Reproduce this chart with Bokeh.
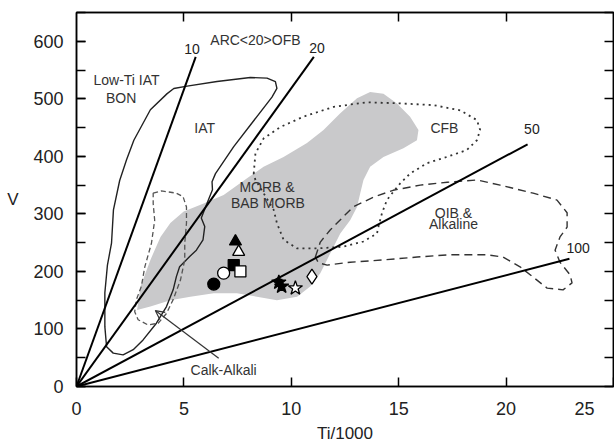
from bokeh.plotting import figure
from bokeh.models import (Range1d, LinearAxis, SingleIntervalTicker, FixedTicker,
                          Arrow, OpenHead, CustomJSTickFormatter, ColumnDataSource)
from bokeh.embed import file_html
from bokeh.resources import INLINE
from bokeh.core.properties import value

FONT = "Liberation Sans"

# Ti/V ratio lines (from origin to end point) and their labels
ratio_labels = ["10", "20", "50", "100"]
ratio_end_ti = [5.55, 11.05, 21.0, 22.95]
ratio_end_v = [573, 573, 421, 222]
ratio_label_ti = [5.38, 11.2, 21.2, 23.35]
ratio_label_v = [587, 589, 447, 241]

# MORB & BAB MORB field (grey)
morb_ti = [13.67, 14.29, 14.92, 15.53, 15.92, 15.85, 15.22, 14.29, 13.67, 13.36, 13.21, 13.06,
           12.74, 12.28, 11.97, 11.66, 11.35, 10.88, 10.27, 9.33, 8.40, 7.47, 6.39, 5.30, 4.37,
           3.44, 2.82, 2.98, 3.44, 3.91, 4.37, 4.99, 5.92, 6.85, 7.94, 8.71, 9.64, 10.73, 11.50,
           12.28, 13.06]
morb_v = [512, 509, 492, 469, 446, 428, 414, 399, 382, 359, 336, 312,
          289, 266, 243, 220, 197, 174, 156, 150, 156, 162, 162, 156, 150,
          139, 133, 174, 220, 260, 284, 304, 318, 333, 362, 382, 399, 423, 446,
          475, 501]

# Arc field (IAT + low-Ti IAT/BON), solid outline
arc_ti = [4.53, 4.22, 3.44, 2.67, 2.33, 2.01, 1.72, 1.63, 1.44, 1.32, 1.32, 1.40, 1.71, 2.17,
          2.64, 3.10, 3.72, 4.19, 4.50, 4.65, 4.80, 5.27, 5.58, 5.89, 5.97, 5.81, 6.05, 6.33,
          6.31, 6.47, 7.32, 9.10, 9.33, 9.26, 8.87, 8.09, 6.54, 5.15]
arc_v = [518, 509, 481, 428, 394, 358, 307, 249, 211, 163, 104, 69, 58, 55,
         64, 81, 110, 139, 168, 191, 208, 226, 237, 255, 278, 293, 316, 342,
         356, 370, 417, 503, 518, 530, 536, 537, 530, 522]

# Calc-alkaline field, dashed
calc_ti = [3.57, 3.95, 4.65, 4.96, 5.12, 5.12, 5.04, 5.04, 4.84, 4.50, 4.19, 3.80, 3.33, 2.87,
           2.71, 2.79, 3.02, 3.18, 3.49, 3.64, 3.57]
calc_v = [336, 340, 336, 330, 312, 284, 249, 220, 185, 151, 127, 110, 107, 116,
          130, 151, 174, 208, 249, 289, 318]

# CFB field, dotted
cfb_ti = [8.25, 8.33, 8.71, 9.49, 10.57, 11.97, 13.52, 15.07, 16.62, 17.86, 18.64, 18.79, 18.64,
          18.17, 17.24, 16.31, 15.53, 15.07, 14.76, 14.45, 14.22, 14.06, 13.99, 13.36, 12.43,
          11.20, 10.27, 9.64, 9.33, 9.18, 8.71, 8.33]
cfb_v = [370, 405, 431, 451, 469, 486, 494, 492, 489, 480, 463, 446, 428,
         411, 399, 388, 370, 353, 339, 324, 301, 278, 266, 252, 243,
         240, 240, 255, 284, 307, 336, 359]

# OIB & Alkaline field, dashed
oib_ti = [11.12, 11.35, 11.81, 12.42, 12.88, 13.81, 14.74, 16.00, 17.26, 18.65, 19.72, 21.26,
          22.37, 22.84, 22.84, 22.51, 22.28, 22.51, 22.98, 23.07, 22.65, 21.91, 21.26, 20.65,
          19.86, 19.12, 17.40, 15.86, 14.28, 12.74, 11.67, 11.26]
oib_v = [225, 251, 272, 295, 312, 329, 341, 350, 355, 359, 350, 336,
         324, 302, 277, 260, 237, 216, 194, 180, 168, 171, 190, 208,
         225, 229, 229, 225, 220, 216, 211, 215]

# Field labels
field_text = ["ARC<20>OFB", "Low-Ti IAT", "BON", "IAT", "MORB &", "BAB MORB", "CFB",
              "OIB &", "Alkaline", "Calk-Alkali"]
field_ti = [8.33, 2.33, 2.08, 5.97, 8.87, 8.91, 17.13, 17.55, 17.55, 6.85]
field_v = [603, 532, 501, 449, 346, 319, 449, 302, 282, 28]

# Calk-Alkali arrow (tail -> head)
arrow_ti = [6.62, 3.67]
arrow_v = [49, 132]

# Sample points
sample_ti = [7.40, 7.55, 7.32, 7.63, 6.85, 6.39, 9.42, 9.55, 10.19, 10.96]
sample_v = [252, 234, 211, 200, 197, 178, 181, 174, 171, 191]
sample_marker = ["triangle", "triangle", "square", "square", "circle", "circle",
                 "star", "star", "star", "diamond"]
sample_fill = ["black", "white", "black", "white", "white", "black",
               "black", "black", "white", "white"]
sample_size = [12, 12, 11, 11, 12, 12, 15, 15, 15, 15]

x_ticks = [0, 5, 10, 15, 20, 25]
x_tick_labels = ["0", "5", "10", "15", "20", "25" + "\u00a0" * 4]  # last one sits left of the corner

p = figure(frame_width=537, frame_height=374, x_range=Range1d(0, 25), y_range=Range1d(0, 650),
           output_backend="svg", toolbar_location=None,
           min_border_left=76, min_border_right=1, min_border_top=12, min_border_bottom=56)
p.xgrid.visible = False
p.ygrid.visible = False
p.outline_line_color = "black"
p.outline_line_width = 1.5
p.background_fill_color = "white"
p.border_fill_color = "white"

# bottom axis
xa = p.xaxis[0]
xa.ticker = FixedTicker(ticks=x_ticks, minor_ticks=[])
xa.major_label_overrides = {t: s for t, s in zip(x_ticks, x_tick_labels)}
xa.major_tick_in = 9
xa.major_tick_out = 0
xa.major_tick_line_width = 1.5
xa.axis_line_width = 1.5
xa.major_label_standoff = 12
xa.major_label_text_font = FONT
xa.major_label_text_font_size = "18px"
xa.major_label_text_color = "#222222"
xa.axis_label = "Ti/1000"
xa.axis_label_text_font = FONT
xa.axis_label_text_font_size = "17px"
xa.axis_label_text_font_style = "normal"
xa.axis_label_text_color = "#222222"
xa.axis_label_standoff = 2

# left axis
ya = p.yaxis[0]
ya.ticker = SingleIntervalTicker(interval=100, num_minor_ticks=2)
ya.major_tick_in = 9
ya.major_tick_out = 0
ya.minor_tick_in = 9
ya.minor_tick_out = 0
ya.major_tick_line_width = 1.5
ya.minor_tick_line_width = 1.5
ya.minor_tick_line_color = "black"
ya.axis_line_width = 1.5
ya.major_label_standoff = 13
ya.major_label_text_font = FONT
ya.major_label_text_font_size = "18px"
ya.major_label_text_color = "#222222"
ya.axis_label = "V"
ya.axis_label_orientation = "horizontal"
ya.axis_label_text_font = FONT
ya.axis_label_text_font_size = "17px"
ya.axis_label_text_font_style = "normal"
ya.axis_label_text_color = "#222222"
ya.axis_label_standoff = 12

empty = CustomJSTickFormatter(code="return ''")
top = LinearAxis(ticker=FixedTicker(ticks=[5, 10, 15, 20], minor_ticks=[]),
                 major_tick_in=9, major_tick_out=0, major_tick_line_width=1.5,
                 axis_line_width=1.5, formatter=empty, major_label_standoff=0,
                 major_label_text_font_size="1px")
p.add_layout(top, "above")
right = LinearAxis(ticker=SingleIntervalTicker(interval=50, num_minor_ticks=0),
                   major_tick_in=9, major_tick_out=0, major_tick_line_width=1.5,
                   axis_line_width=1.5, formatter=empty, major_label_standoff=0,
                   major_label_text_font_size="1px")
p.add_layout(right, "right")

# fields
p.patch(morb_ti, morb_v, fill_color="#c9c9cb", line_color=None)
p.patch(arc_ti, arc_v, fill_color=None, line_color="#222222", line_width=1.4)
p.patch(calc_ti, calc_v, fill_color=None, line_color="#555555", line_width=1.3, line_dash="5 3")
p.patch(cfb_ti, cfb_v, fill_color=None, line_color="#333333", line_width=1.8, line_dash="2 4")
p.patch(oib_ti, oib_v, fill_color=None, line_color="#333333", line_width=1.4, line_dash="8 5")

# ratio lines
p.multi_line([[0, t] for t in ratio_end_ti], [[0, v] for v in ratio_end_v],
             line_color="black", line_width=2)
p.text(ratio_label_ti, ratio_label_v, text=ratio_labels, text_font=value(FONT),
       text_font_size="14px", text_align="center", text_baseline="middle", text_color="#222222")

# field labels
p.text(field_ti, field_v, text=field_text, text_font=value(FONT), text_font_size="14px",
       text_align="center", text_baseline="middle", text_color="#333333")

p.add_layout(Arrow(end=OpenHead(size=9, line_width=1.2, line_color="#333333"),
                   x_start=arrow_ti[0], y_start=arrow_v[0], x_end=arrow_ti[1], y_end=arrow_v[1],
                   line_color="#333333", line_width=1.2))

# samples
src = ColumnDataSource(dict(x=sample_ti, y=sample_v, marker=sample_marker,
                            fill=sample_fill, size=sample_size))
p.scatter("x", "y", marker="marker", size="size", fill_color="fill", line_color="black",
          line_width=1.3, source=src)

open("out.html", "w").write(file_html(p, INLINE))
